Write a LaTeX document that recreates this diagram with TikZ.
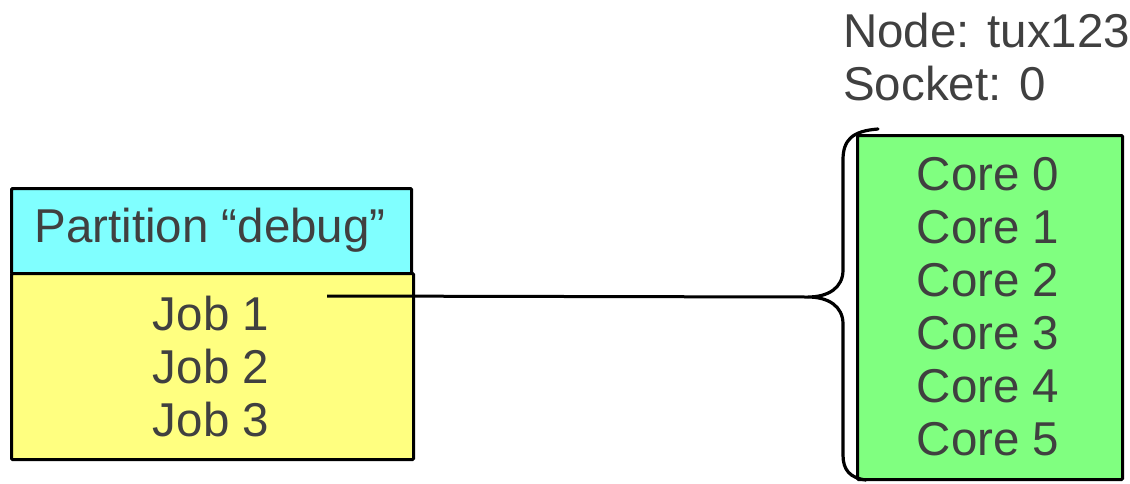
\documentclass[tikz,border=0pt]{standalone}
\usepackage{fontspec}
\setmainfont{Liberation Sans}
\begin{document}
\begin{tikzpicture}[x=1pt,y=-1pt,
  box/.style={draw=black, line width=3pt, inner sep=0pt, anchor=north west, rounded corners=1pt},
  txt/.style={text=textgray, font=\fontsize{47.5}{53}\selectfont, inner sep=0pt, align=center},
  wire/.style={draw=black, line width=3pt}]
  \definecolor{textgray}{HTML}{404040}
  \definecolor{cyanfill}{HTML}{80FFFF}
  \definecolor{yellowfill}{HTML}{FFFF80}
  \definecolor{greenfill}{HTML}{80FF80}
  \useasboundingbox (0,0) rectangle (1130,483);

  % partition header and its job list
  \node[box, fill=cyanfill, minimum width=400pt, minimum height=85pt] (part) at (10,187) {};
  \node[box, fill=yellowfill, minimum width=402pt, minimum height=186pt] (jobs) at (10,272) {};
  \node[txt] (partlabel) at (210,230) {Partition “debug”};
  \node[txt] (joblist) at (211,367) {Job 1\\Job 2\\Job 3};

  % socket with its cores
  \node[box, fill=greenfill, minimum width=265pt, minimum height=344pt] (socket) at (856,134) {};
  \node[txt] (cores) at (988,307) {Core 0\\Core 1\\Core 2\\Core 3\\Core 4\\Core 5};
  \node[txt, align=left, anchor=north west] (nodelabel) at (843,13) {Node: tux123\\Socket: 0};

  % brace grouping the cores
  \coordinate (tip) at (808,297);
  \draw[line width=3.2pt, line cap=round]
    (878,129) .. controls (852,131) and (843,140) .. (843,160)
    -- (843,270) .. controls (843,288) and (828,297) .. (tip)
    .. controls (828,297) and (843,306) .. (843,324)
    -- (843,455) .. controls (843,470) and (850,478) .. (866,480);

  % job 1 mapped to the socket
  \coordinate (jobstart) at (327,296);
  \draw[wire] (jobstart) -- (tip);
\end{tikzpicture}
\end{document}
